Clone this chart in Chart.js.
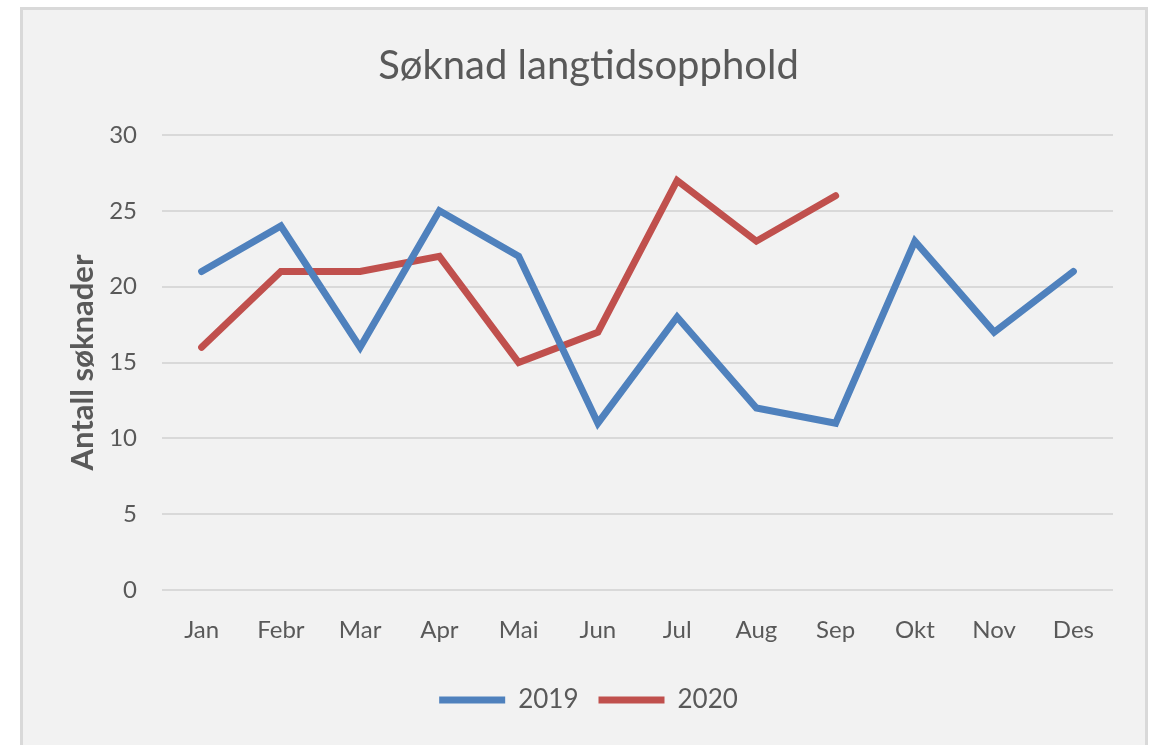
<!DOCTYPE html>
<html>
<head>
<meta charset="utf-8">
<script src="https://cdn.jsdelivr.net/npm/chart.js@4"></script>
<style>
    body { margin: 0; background: #ffffff; }
    #frame {
        position: absolute;
        left: 20px;
        top: 7px;
        width: 1122px;
        height: 740px;
        border: 3px solid #d9d9d9;
        border-bottom: none;
        background: #f2f2f2;
    }
</style>
</head>
<body>
<div id="frame"><canvas id="chart"></canvas></div>
<script>
// Måneder og verdier lest av bildet
const months = ['Jan', 'Febr', 'Mar', 'Apr', 'Mai', 'Jun', 'Jul', 'Aug', 'Sep', 'Okt', 'Nov', 'Des'];
const values2019 = [21, 24, 16, 25, 22, 11, 18, 12, 11, 23, 17, 21];
const values2020 = [16, 21, 21, 22, 15, 17, 27, 23, 26];
const yTicks = [0, 5, 10, 15, 20, 25, 30];

document.addEventListener('DOMContentLoaded', function () {
    const textColor = '#595959';
    const fontFamily = 'Lato, "Open Sans", sans-serif';

    const ctx = document.getElementById('chart').getContext('2d');

    new Chart(ctx, {
        type: 'line',
        data: {
            labels: months,
            datasets: [
                {
                    label: '2019',
                    data: values2019,
                    borderColor: '#4f81bd',
                    backgroundColor: '#4f81bd',
                    borderWidth: 7,
                    borderCapStyle: 'round',
                    borderJoinStyle: 'miter',
                    pointRadius: 0,
                    tension: 0,
                },
                {
                    label: '2020',
                    data: values2020,
                    borderColor: '#c0504d',
                    backgroundColor: '#c0504d',
                    borderWidth: 7,
                    borderCapStyle: 'round',
                    borderJoinStyle: 'miter',
                    pointRadius: 0,
                    tension: 0,
                },
            ],
        },
        options: {
            responsive: true,
            maintainAspectRatio: false,
            animation: false,
            layout: {
                padding: { left: 41, right: 32, top: 0, bottom: 27 },
            },
            plugins: {
                title: {
                    display: true,
                    text: 'Søknad langtidsopphold',
                    color: textColor,
                    font: { family: fontFamily, size: 40, weight: 'normal' },
                    padding: { top: 32, bottom: 45 },
                },
                legend: {
                    position: 'bottom',
                    labels: {
                        color: textColor,
                        font: { family: fontFamily, size: 26 },
                        usePointStyle: true,
                        pointStyle: 'line',
                        pointStyleWidth: 66,
                        boxHeight: 6,
                        padding: 20,
                    },
                },
                tooltip: { enabled: false },
            },
            scales: {
                x: {
                    offset: true,
                    grid: { display: false, drawTicks: false },
                    border: { display: false },
                    ticks: {
                        color: textColor,
                        font: { family: fontFamily, size: 24 },
                        padding: 26,
                        maxRotation: 0,
                    },
                    afterFit: function (scale) {
                        scale.height = 77;
                    },
                },
                y: {
                    min: 0,
                    max: 30,
                    afterBuildTicks: function (scale) {
                        scale.ticks = yTicks.map(function (v) { return { value: v }; });
                    },
                    grid: { color: '#d9d9d9', lineWidth: 2, drawTicks: false },
                    border: { display: false },
                    ticks: {
                        color: textColor,
                        font: { family: fontFamily, size: 24 },
                        padding: 25,
                    },
                    title: {
                        display: true,
                        text: 'Antall søknader',
                        color: textColor,
                        font: { family: fontFamily, size: 31, weight: 'bold' },
                        padding: 0,
                    },
                    afterFit: function (scale) {
                        scale.width = 98;
                    },
                },
            },
        },
    });
});
</script>
</body>
</html>
